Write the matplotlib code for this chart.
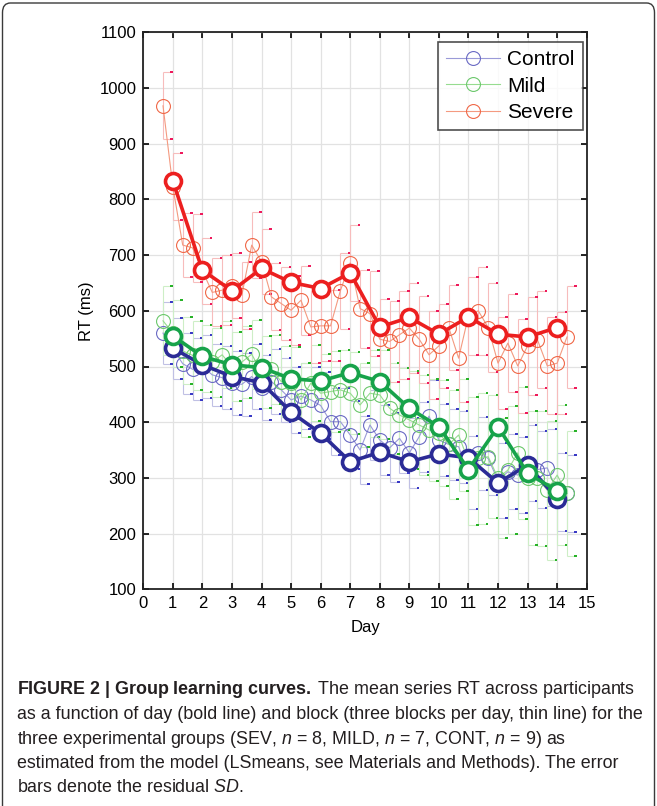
import numpy as np
import matplotlib
matplotlib.use("Agg")
import matplotlib.pyplot as plt
from matplotlib import font_manager
from matplotlib.lines import Line2D
from matplotlib.patches import FancyBboxPatch

# ---------------------------------------------------------------- data
days = np.arange(1, 15)
block_offsets = [-1 / 3, 0, 1 / 3]

severe_day = [833, 673, 636, 676, 651, 640, 668, 571, 588, 558, 589, 558, 553, 570]
mild_day = [555, 518, 503, 498, 478, 474, 489, 473, 425, 392, 315, 392, 308, 277]
control_day = [533, 503, 482, 471, 418, 380, 329, 346, 329, 343, 336, 291, 323, 263]

severe_block = [968, 823, 718, 713, 672, 633, 637, 645, 628, 718, 688, 625, 613, 601,
                619, 571, 573, 573, 636, 686, 604, 595, 549, 545, 557, 569, 549, 521,
                537, 570, 515, 591, 600, 570, 506, 542, 501, 537, 548, 501, 506, 553]
mild_block = [582, 560, 528, 520, 515, 508, 521, 500, 508, 522, 490, 495, 473, 470,
              440, 470, 452, 455, 458, 452, 431, 452, 449, 425, 413, 404, 395, 386,
              380, 360, 377, 330, 335, 338, 300, 314, 345, 300, 299, 278, 305, 272]
control_block = [560, 532, 505, 495, 500, 485, 480, 470, 468, 482, 462, 473, 458, 440,
                 447, 440, 430, 401, 401, 377, 350, 395, 368, 354, 371, 345, 374, 411,
                 368, 360, 356, 310, 344, 335, 295, 311, 305, 327, 315, 318, 275, 272]

severe_sd = [60, 60, 58, 61, 59, 61, 63, 58, 60, 60, 58, 60, 65, 62, 62, 64, 64, 64,
             68, 68, 70, 77, 73, 73, 79, 81, 78, 79, 75, 77, 78, 70, 79, 80, 82, 88,
             85, 88, 87, 87, 92, 92]
mild_sd = [62, 60, 60, 62, 60, 62, 60, 62, 64, 62, 64, 62, 63, 65, 66, 68, 70, 72,
           72, 74, 76, 78, 80, 82, 85, 88, 90, 92, 95, 98, 100, 115, 118, 110, 108,
           115, 118, 120, 122, 125, 125, 112]
control_sd = [55, 55, 55, 56, 56, 56, 57, 57, 57, 58, 58, 58, 58, 59, 59, 60, 60, 60,
              60, 61, 61, 62, 62, 62, 63, 63, 63, 64, 64, 64, 65, 65, 66, 66, 67, 67,
              68, 68, 69, 69, 70, 70]

group_names = ["Control", "Mild", "Severe"]
x_ticks = list(range(0, 16))
y_ticks = list(range(100, 1101, 100))

caption_lines = [
    r"$\mathbf{FIGURE\ 2\ |\ Group\ learning\ curves.}$ The mean series RT across participants",
    "as a function of day (bold line) and block (three blocks per day, thin line) for the",
    r"three experimental groups (SEV, $\mathit{n}$ = 8, MILD, $\mathit{n}$ = 7, CONT, $\mathit{n}$ = 9) as",
    "estimated from the model (LSmeans, see Materials and Methods). The error",
    r"bars denote the residual $\mathit{SD}$.",
]


# ---------------------------------------------------------------- fonts
def available(name):
    try:
        font_manager.findfont(font_manager.FontProperties(family=name),
                              fallback_to_default=False)
        return True
    except Exception:
        return False


axis_font = "Liberation Sans" if available("Liberation Sans") else "DejaVu Sans"
caption_font = axis_font

plt.rcParams["font.family"] = [axis_font, "DejaVu Sans"]
plt.rcParams["mathtext.fontset"] = "custom"
plt.rcParams["mathtext.rm"] = caption_font
plt.rcParams["mathtext.it"] = caption_font + ":italic"
plt.rcParams["mathtext.bf"] = caption_font + ":bold"

# ---------------------------------------------------------------- styles
styles = {
    "Control": dict(bold="#2b2b96", thin="#6a6ac4", thin_line="#9a9ad8",
                    bar="#c0c0e4", cap="#3434c4"),
    "Mild": dict(bold="#17a34a", thin="#6cc86c", thin_line="#96dc90",
                 bar="#cdeec6", cap="#22b022"),
    "Severe": dict(bold="#ec1f1f", thin="#f06848", thin_line="#f49a80",
                   bar="#f7bcbc", cap="#ee1458"),
}
series_day = {"Control": control_day, "Mild": mild_day, "Severe": severe_day}
series_block = {"Control": control_block, "Mild": mild_block, "Severe": severe_block}
series_sd = {"Control": control_sd, "Mild": mild_sd, "Severe": severe_sd}

block_x = (np.repeat(days, 3) + np.tile(block_offsets, len(days)))

# ---------------------------------------------------------------- figure
W, H, DPI = 657, 806, 100
fig = plt.figure(figsize=(W / DPI, H / DPI), dpi=DPI)
fig.patch.set_facecolor("white")

# rounded frame around the figure panel
frame = FancyBboxPatch((2.5 / W, -20 / H), (W - 5) / W, (H - 3 + 20) / H,
                       boxstyle="round,pad=0,rounding_size=0.012",
                       transform=fig.transFigure, fill=False,
                       edgecolor="#3a3a3a", linewidth=1.0, clip_on=False)
fig.patches.append(frame)

ax_left, ax_right, ax_top, ax_bottom = 143.3, 586.7, 32.3, 589.3
ax = fig.add_axes([ax_left / W, 1 - ax_bottom / H,
                   (ax_right - ax_left) / W, (ax_bottom - ax_top) / H])

ax.set_xlim(0, 15)
ax.set_ylim(100, 1100)
ax.set_xticks(x_ticks)
ax.set_yticks(y_ticks)
ax.grid(True, color="#e2e2e2", linewidth=0.9)
ax.set_axisbelow(True)
ax.tick_params(direction="in", length=4, width=1.2, top=True, right=True,
               labelsize=12, pad=5, colors="black")
for sp in ax.spines.values():
    sp.set_linewidth(1.3)
    sp.set_color("#222222")

# error bars on block means: light vertical line, caps offset to the right
cap_len = 0.25
cap_tip = 0.09
for name in group_names:
    st = styles[name]
    y = np.asarray(series_block[name], float)
    sd = np.asarray(series_sd[name], float)
    ax.vlines(block_x, y - sd, y + sd, color=st["bar"], linewidth=0.8, zorder=1)
    for yy in (y - sd, y + sd):
        ax.hlines(yy, block_x, block_x + cap_len, color=st["bar"], linewidth=0.8, zorder=1)
        ax.hlines(yy, block_x + cap_len, block_x + cap_len + cap_tip,
                  color=st["cap"], linewidth=1.4, zorder=1)

# thin block curves
for name in group_names:
    st = styles[name]
    ax.plot(block_x, series_block[name], color=st["thin_line"], linewidth=0.8, zorder=2)
    ax.plot(block_x, series_block[name], linestyle="none", marker="o", markersize=10,
            markerfacecolor="none", markeredgecolor=st["thin"], markeredgewidth=0.8,
            zorder=2)

# bold day curves
for name in group_names:
    st = styles[name]
    ax.plot(days, series_day[name], color=st["bold"], linewidth=2.6, marker="o",
            markersize=11.5, markerfacecolor="white", markeredgecolor=st["bold"],
            markeredgewidth=2.6, zorder=3)

ax.set_xlabel("Day", fontsize=12, labelpad=6)
ax.set_ylabel("RT (ms)", fontsize=12, labelpad=4)

handles = [Line2D([], [], color=styles[n]["thin_line"], linewidth=0.8, marker="o",
                  markersize=10, markerfacecolor="none",
                  markeredgecolor=styles[n]["thin"], markeredgewidth=0.8)
           for n in group_names]
leg_x = (583 - ax_left) / (ax_right - ax_left)
leg_y = 1 - (42 - ax_top) / (ax_bottom - ax_top)
leg = ax.legend(handles, group_names, loc="upper right", fontsize=15,
                bbox_to_anchor=(leg_x, leg_y), borderaxespad=0,
                frameon=True, fancybox=False, edgecolor="#222222",
                handlelength=2.6, handletextpad=0.35,
                labelspacing=0.35, borderpad=0.4)
leg.get_frame().set_linewidth(1.2)

# ---------------------------------------------------------------- caption
line_y = [690, 714.5, 739, 763.5, 788]
for text, yy in zip(caption_lines, line_y):
    fig.text(17 / W, 1 - yy / H, text, fontsize=12.9, family=[caption_font, "DejaVu Sans"],
             color="#231f20", va="center", ha="left")

fig.savefig("out.png", dpi=DPI, facecolor="white")
